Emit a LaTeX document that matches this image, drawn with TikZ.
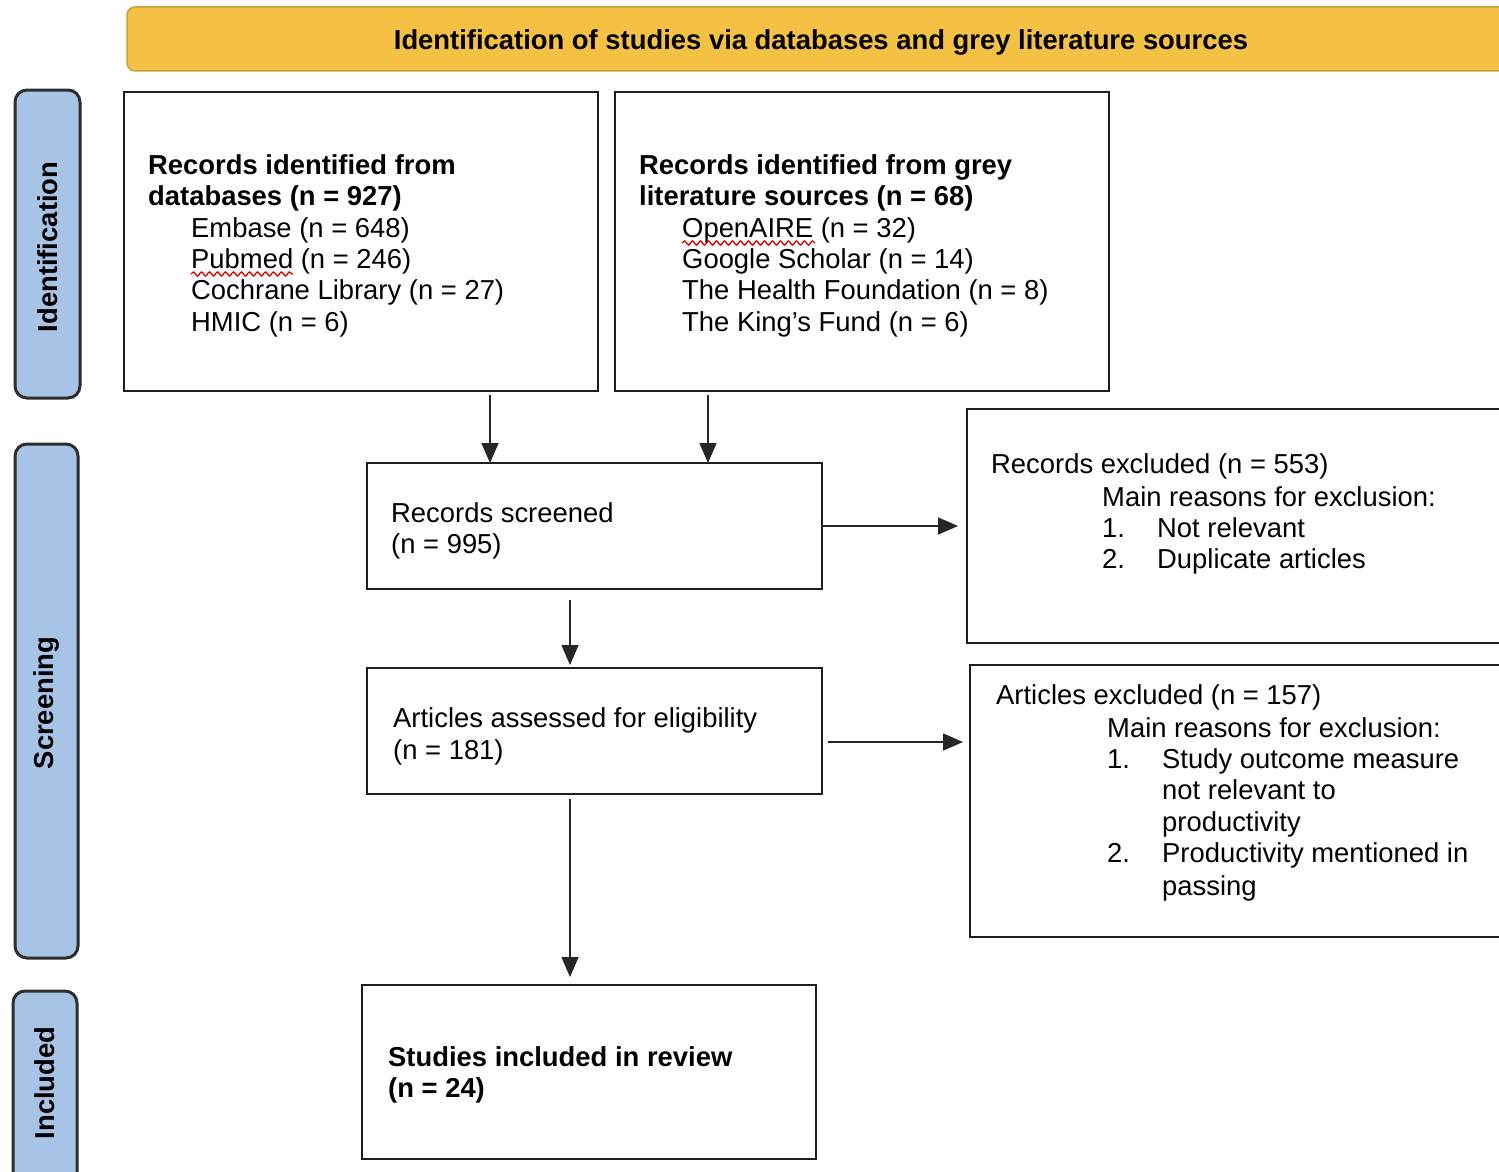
\documentclass[tikz,border=0pt]{standalone}
\usepackage{fontspec}
\setmainfont{Liberation Sans}
\usetikzlibrary{arrows.meta,decorations.pathmorphing,calc}
\definecolor{bannerfill}{HTML}{F4C144}
\definecolor{bannerline}{HTML}{C9A13A}
\definecolor{sidefill}{HTML}{A7C4E6}
\definecolor{sideline}{HTML}{2E2E2E}
\definecolor{boxline}{HTML}{1E1E1E}
\begin{document}
\begin{tikzpicture}[x=1pt,y=-1pt,
  box/.style={draw=boxline, line width=2.5pt, fill=white, anchor=north west, inner sep=0pt, outer sep=0pt},
  side/.style={draw=sideline, line width=3pt, fill=sidefill, rounded corners=12pt, anchor=north west, inner sep=0pt, outer sep=0pt},
  txt/.style={anchor=base west, inner sep=0pt, font=\fontsize{27.4}{31}\selectfont},
  btxt/.style={anchor=base west, inner sep=0pt, font=\fontsize{27.4}{31}\selectfont\bfseries},
  arr/.style={draw=black!85, line width=1.6pt, -{Triangle[length=20pt,width=17pt]}},
  wavy/.style={draw=red!85!black, line width=1.3pt, decorate, decoration={snake, amplitude=2pt, segment length=8pt}}
]
\useasboundingbox (0,0) rectangle (1499,1172);
\fill[white] (0,0) rectangle (1499,1172);

% banner
\node[draw=bannerline, line width=1.5pt, fill=bannerfill, rounded corners=8pt, minimum width=1420pt, minimum height=64pt, anchor=north west, inner sep=0pt, outer sep=0pt] (banner) at (127,7) {};
\node[btxt, anchor=base] (bannertxt) at (821,49) {Identification of studies via databases and grey literature sources};

% side labels
\node[side, minimum width=65pt, minimum height=308pt] (sideid) at (15,90) {};
\node[btxt, anchor=center, rotate=90] (sideidt) at (47.5,247) {Identification};
\node[side, minimum width=63pt, minimum height=514pt] (sidescr) at (15,444) {};
\node[btxt, anchor=center, rotate=90] (sidescrt) at (46.5,703) {Screening};
\node[side, minimum width=64pt, minimum height=220pt] (sideinc) at (13,991) {};
\node[btxt, anchor=center, rotate=90] (sideinct) at (45,1083) {Included};

% boxes
\node[box, minimum width=474pt, minimum height=299pt] (b1) at (124,92) {};
\node[box, minimum width=494pt, minimum height=299pt] (b2) at (615,92) {};
\node[box, minimum width=455pt, minimum height=126pt] (scr) at (367,463) {};
\node[box, minimum width=620pt, minimum height=234pt] (ex1) at (967,409) {};
\node[box, minimum width=455pt, minimum height=126pt] (elig) at (367,668) {};
\node[box, minimum width=620pt, minimum height=272pt] (ex2) at (970,665) {};
\node[box, minimum width=454pt, minimum height=174pt] (inc) at (362,985) {};

% box 1 text
\node[btxt] (b1a) at (148,174) {Records identified from};
\node[btxt] (b1b) at (148,205) {databases (n = 927)};
\node[txt] (b1c) at (191,237) {Embase (n = 648)};
\node[txt] (b1d) at (191,268) {Pubmed (n = 246)};
\node[txt] (b1e) at (191,299) {Cochrane Library (n = 27)};
\node[txt] (b1f) at (191,331) {HMIC (n = 6)};
\draw[wavy] (191,274) -- (293,274);

% box 2 text
\node[btxt] (b2a) at (639,174) {Records identified from grey};
\node[btxt] (b2b) at (639,205) {literature sources (n = 68)};
\node[txt] (b2c) at (682,237) {OpenAIRE (n = 32)};
\node[txt] (b2d) at (682,268) {Google Scholar (n = 14)};
\node[txt] (b2e) at (682,299) {The Health Foundation (n = 8)};
\node[txt] (b2f) at (682,331) {The King’s Fund (n = 6)};
\draw[wavy] (682,243) -- (815,243);

% screened
\node[txt] (scra) at (391,522) {Records screened};
\node[txt] (scrb) at (391,553) {(n = 995)};

% excluded 1
\node[txt] (ex1a) at (991,473) {Records excluded (n = 553)};
\node[txt] (ex1b) at (1102,506) {Main reasons for exclusion:};
\node[txt] (ex1c) at (1102,537) {1.};
\node[txt] (ex1d) at (1157,537) {Not relevant};
\node[txt] (ex1e) at (1102,568) {2.};
\node[txt] (ex1f) at (1157,568) {Duplicate articles};

% eligibility
\node[txt] (eliga) at (393,727) {Articles assessed for eligibility};
\node[txt] (eligb) at (393,759) {(n = 181)};

% excluded 2
\node[txt] (ex2a) at (996,704) {Articles excluded (n = 157)};
\node[txt] (ex2b) at (1107,737) {Main reasons for exclusion:};
\node[txt] (ex2c) at (1107,768) {1.};
\node[txt] (ex2d) at (1162,768) {Study outcome measure};
\node[txt] (ex2e) at (1162,799) {not relevant to};
\node[txt] (ex2f) at (1162,831) {productivity};
\node[txt] (ex2g) at (1107,862) {2.};
\node[txt] (ex2h) at (1162,862) {Productivity mentioned in};
\node[txt] (ex2i) at (1162,895) {passing};

% included
\node[btxt] (inca) at (388,1066) {Studies included in review};
\node[btxt] (incb) at (388,1097) {(n = 24)};

% connectors
\coordinate (a1s) at ($(b1.south)+(129,4)$);
\draw[arr] (a1s) -- (a1s |- scr.north);
\coordinate (a2s) at ($(b2.south)+(-154,4)$);
\draw[arr] (a2s) -- (a2s |- scr.north);
\coordinate (a3e) at ($(scr.east -| ex1.west)+(-9,0)$);
\draw[arr] (scr.east) -- (a3e);
\coordinate (a4s) at ($(scr.south)+(-24.5,11)$);
\coordinate (a4e) at ($(a4s |- elig.north)+(0,-3)$);
\draw[arr] (a4s) -- (a4e);
\coordinate (a5s) at ($(elig.east)+(6,11)$);
\coordinate (a5e) at ($(a5s -| ex2.west)+(-7,0)$);
\draw[arr] (a5s) -- (a5e);
\coordinate (a6s) at ($(elig.south)+(-24.5,5)$);
\coordinate (a6e) at ($(a6s |- inc.north)+(0,-8)$);
\draw[arr] (a6s) -- (a6e);
\end{tikzpicture}
\end{document}
